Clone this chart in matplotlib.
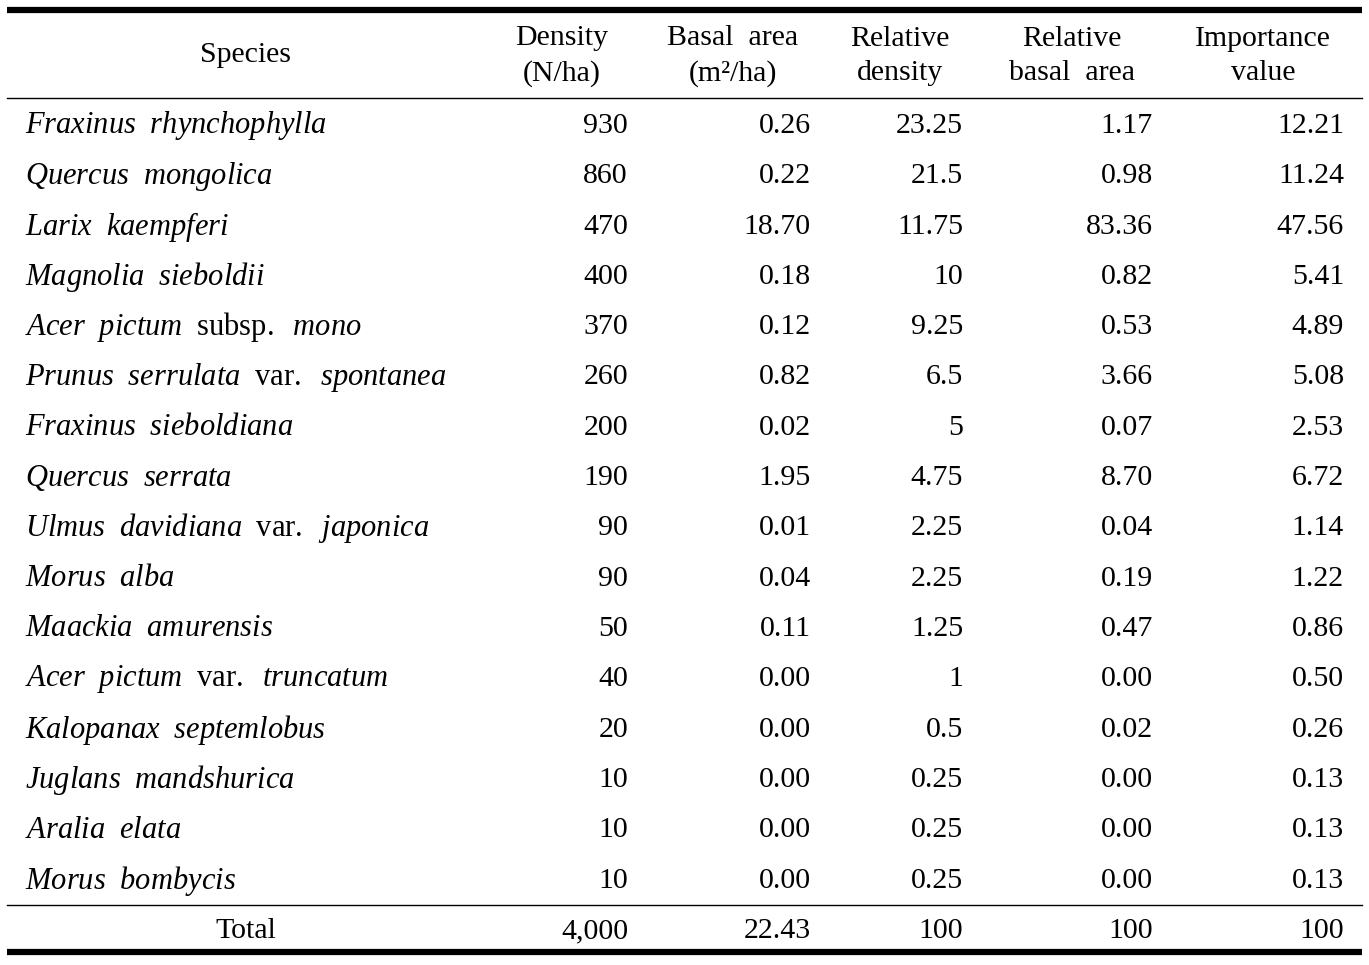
import matplotlib.pyplot as plt

species = ["Fraxinus rhynchophylla", "Quercus mongolica", "Larix kaempferi",
           "Magnolia sieboldii", "Acer pictum subsp. mono",
           "Prunus serrulata var. spontanea", "Fraxinus sieboldiana",
           "Quercus serrata", "Ulmus davidiana var. japonica", "Morus alba",
           "Maackia amurensis", "Acer pictum var. truncatum",
           "Kalopanax septemlobus", "Juglans mandshurica", "Aralia elata",
           "Morus bombycis"]
density = ["930", "860", "470", "400", "370", "260", "200", "190", "90", "90",
           "50", "40", "20", "10", "10", "10"]
basal_area = ["0.26", "0.22", "18.70", "0.18", "0.12", "0.82", "0.02", "1.95",
              "0.01", "0.04", "0.11", "0.00", "0.00", "0.00", "0.00", "0.00"]
rel_density = ["23.25", "21.5", "11.75", "10", "9.25", "6.5", "5", "4.75",
               "2.25", "2.25", "1.25", "1", "0.5", "0.25", "0.25", "0.25"]
rel_basal = ["1.17", "0.98", "83.36", "0.82", "0.53", "3.66", "0.07", "8.70",
             "0.04", "0.19", "0.47", "0.00", "0.02", "0.00", "0.00", "0.00"]
importance = ["12.21", "11.24", "47.56", "5.41", "4.89", "5.08", "2.53", "6.72",
              "1.14", "1.22", "0.86", "0.50", "0.26", "0.13", "0.13", "0.13"]
total = ["4,000", "22.43", "100", "100", "100"]
headers = ["Density\n(N/ha)", "Basal  area\n(m\u00b2/ha)", "Relative\ndensity",
           "Relative\nbasal  area", "Importance\nvalue"]
roman_words = ["subsp.", "var."]

plt.rcParams['font.family'] = ['Liberation Serif', 'DejaVu Serif']
plt.rcParams['mathtext.fontset'] = 'custom'
plt.rcParams['mathtext.rm'] = 'Liberation Serif'
plt.rcParams['mathtext.it'] = 'Liberation Serif:italic'

W, H = 1369, 965
fig = plt.figure(figsize=(W / 100, H / 100), dpi=100)
ax = fig.add_axes([0, 0, 1, 1])
ax.set_xlim(0, W)
ax.set_ylim(H, 0)
ax.axis('off')

fs = 21.5
left, right = 7, 1362
header_centers = [562, 733, 900, 1072, 1263]
col_right = [628, 811, 963, 1153, 1344]

def species_label(name):
    parts = []
    for w in name.split():
        if w in roman_words:
            parts.append(r"\mathrm{" + w + "}")
        else:
            parts.append(r"\mathit{" + w + "}")
    return "$" + r"\ \ ".join(parts) + "$"

# rules
ax.plot([left, right], [10, 10], color='black', lw=4.5, solid_capstyle='butt')
ax.plot([left, right], [98, 98], color='black', lw=1.0)
ax.plot([left, right], [905, 905], color='black', lw=1.0)
ax.plot([left, right], [952, 952], color='black', lw=4.5, solid_capstyle='butt')

# header
ax.text(246, 55, "Species", ha='center', va='center', fontsize=fs)
for xc, h in zip(header_centers, headers):
    ax.text(xc, 56, h, ha='center', va='center', fontsize=fs, linespacing=1.45)

# body
y0, dy = 126, 50.3
cols = [density, basal_area, rel_density, rel_basal, importance]
for i, name in enumerate(species):
    y = y0 + i * dy
    ax.text(25, y, species_label(name), ha='left', va='center', fontsize=22)
    for xr, col in zip(col_right, cols):
        ax.text(xr, y, col[i], ha='right', va='center', fontsize=fs)

ax.text(246, 931, "Total", ha='center', va='center', fontsize=fs)
for xr, v in zip(col_right, total):
    ax.text(xr, 931, v, ha='right', va='center', fontsize=fs)

fig.savefig("out.png", dpi=100)
